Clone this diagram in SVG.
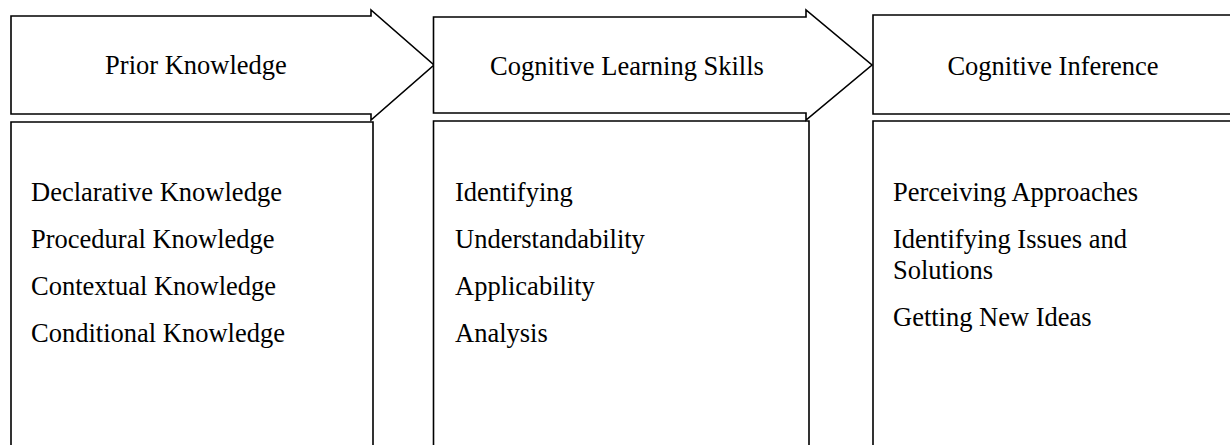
<svg xmlns="http://www.w3.org/2000/svg" width="1230" height="445" viewBox="0 0 1230 445">
<style>
.sh{fill:#fff;stroke:#000;stroke-width:1.6;stroke-linejoin:miter}
.t{font-family:"Liberation Serif","Times New Roman",serif;font-size:26.5px;fill:#000}
.c{text-anchor:middle}
</style>
<rect width="1230" height="445" fill="#fff"/>
<g id="boxes">
<g id="box1"><path class="sh" d="M11,450 V122 H373 V450"/>
<text class="t" x="31" y="201">Declarative Knowledge</text>
<text class="t" x="31" y="248">Procedural Knowledge</text>
<text class="t" x="31" y="295">Contextual Knowledge</text>
<text class="t" x="31" y="342">Conditional Knowledge</text></g>
<g id="box2"><path class="sh" d="M433.5,450 V121 H809 V450"/>
<text class="t" x="455" y="201">Identifying</text>
<text class="t" x="455" y="248">Understandability</text>
<text class="t" x="455" y="295">Applicability</text>
<text class="t" x="455" y="342">Analysis</text></g>
<g id="box3"><path class="sh" d="M873,450 V121 H1240 V450"/>
<text class="t" x="893" y="201">Perceiving Approaches</text>
<text class="t" x="893" y="248">Identifying Issues and</text>
<text class="t" x="893" y="279">Solutions</text>
<text class="t" x="893" y="326">Getting New Ideas</text></g>
</g>
<g id="header1"><path class="sh" d="M11,16 H371 V10 L434,65 L371,120 V114 H11 Z"/>
<text class="t c" x="196" y="74">Prior Knowledge</text></g>
<g id="header2"><path class="sh" d="M433.5,17 H806 V10 L872,65 L806,120 V113 H433.5 Z"/>
<text class="t c" x="627" y="75">Cognitive Learning Skills</text></g>
<g id="header3"><path class="sh" d="M1240,15 H873 V114 H1240"/>
<text class="t c" x="1053" y="75">Cognitive Inference</text></g>
<g id="connectors"></g>
</svg>
